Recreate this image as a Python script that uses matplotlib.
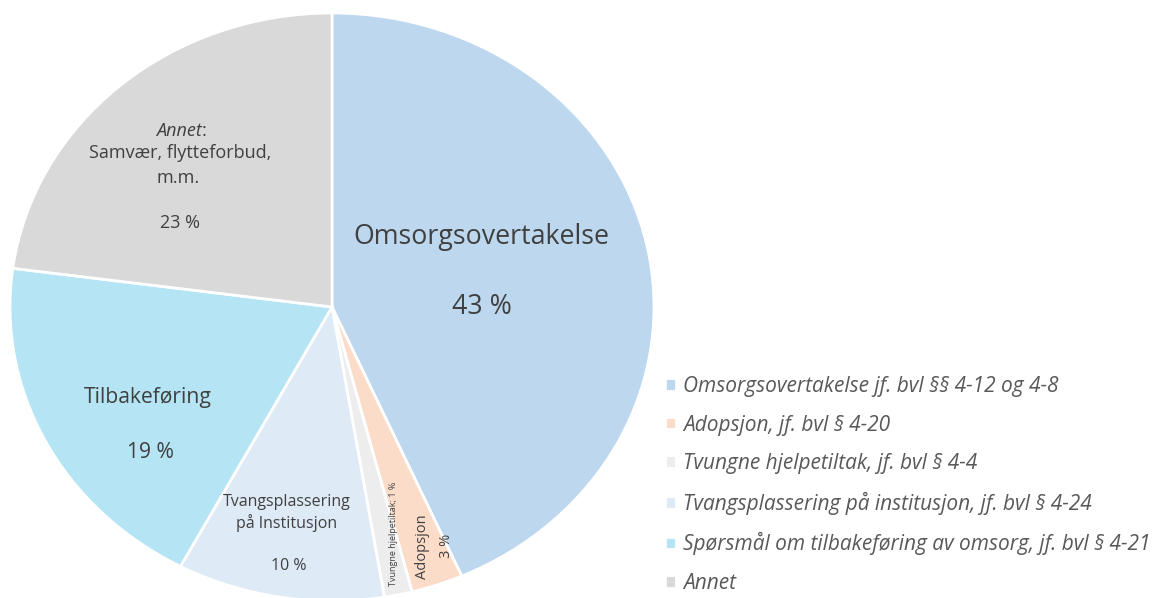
import matplotlib.pyplot as plt

# andeler (prosent), lest av figuren
kategorier = ["Omsorgsovertakelse jf. bvl §§ 4-12 og 4-8",
              "Adopsjon, jf. bvl § 4-20",
              "Tvungne hjelpetiltak, jf. bvl § 4-4",
              "Tvangsplassering på institusjon, jf. bvl § 4-24",
              "Spørsmål om tilbakeføring av omsorg, jf. bvl § 4-21",
              "Annet"]
andeler = [43.4, 2.6, 1.4, 10.4, 19.3, 22.9]
farger = ["#BDD7EE", "#FBDCC8", "#EDEDED", "#DEEAF6", "#B5E5F4", "#D9D9D9"]

plt.rcParams['font.family'] = ['Open Sans', 'DejaVu Sans']
tekst = "#404040"

W, H = 1160, 598
fig = plt.figure(figsize=(W / 100, H / 100), dpi=100)
cx, cy, rx, ry = 332, 307, 322, 294
ax = fig.add_axes([(cx - rx) / W, (H - cy - ry) / H, 2 * rx / W, 2 * ry / H])

wedges, _ = ax.pie(andeler, colors=farger, startangle=90, counterclock=False,
                   radius=1, wedgeprops=dict(edgecolor="white", linewidth=2))
ax.set_aspect('auto')
ax.set_xlim(-1, 1)
ax.set_ylim(-1, 1)


def pos(px, py):
    return (px - cx) / rx, (cy - py) / ry


def lbl(px, py, s, size, ha="center", **kw):
    x, y = pos(px, py)
    return ax.text(x, y, s, ha=ha, va="center", fontsize=size, color=tekst, **kw)


p = [round(v) for v in andeler]

lbl(481, 237, "Omsorgsovertakelse", 19.3)
lbl(482, 307, f"{p[0]} %", 19.3)

lbl(202, 131, "Annet", 13, ha="right", style="italic")
lbl(202, 131, ":", 13, ha="left")
lbl(180, 153, "Samvær, flytteforbud,", 13)
lbl(178, 178, "m.m.", 13)
lbl(180, 223, f"{p[5]} %", 13)

lbl(148, 398, "Tilbakeføring", 15.2)
lbl(150, 452, f"{p[4]} %", 15.2)

lbl(287, 502, "Tvangsplassering", 11.5)
lbl(287, 523, "på Institusjon", 11.5)
lbl(289, 566, f"{p[3]} %", 11.5)

lbl(394, 534, f"Tvungne hjelpetiltak; {p[2]} %", 6.5, rotation=90)
lbl(423, 547, "Adopsjon", 10.5, rotation=90)
lbl(447, 546, f"{p[1]} %", 10.5, rotation=90)

leg = fig.legend(wedges, kategorier, loc="upper left",
                 bbox_to_anchor=(665 / W, 1 - 376 / H), frameon=False,
                 borderpad=0, borderaxespad=0,
                 handlelength=0.55, handleheight=0.55, handletextpad=0.3,
                 labelspacing=0.84, prop=dict(size=15, style="italic"))
for t in leg.get_texts():
    t.set_color("#595959")

fig.savefig("out.png", dpi=100)
